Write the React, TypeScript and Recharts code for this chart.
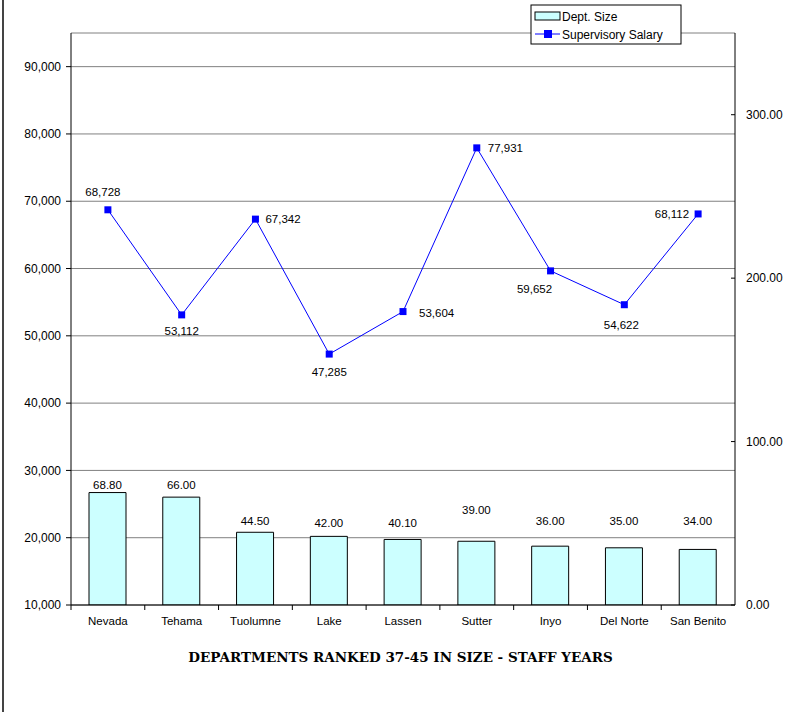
import React from 'react';
import { ComposedChart, Bar, Line, XAxis, YAxis, CartesianGrid, LabelList } from 'recharts';

const departments = ['Nevada', 'Tehama', 'Tuolumne', 'Lake', 'Lassen', 'Sutter', 'Inyo', 'Del Norte', 'San Benito'];
const deptSize = [68.8, 66.0, 44.5, 42.0, 40.1, 39.0, 36.0, 35.0, 34.0];
const supervisorySalary = [68728, 53112, 67342, 47285, 53604, 77931, 59652, 54622, 68112];
const leftTicks = [10000, 20000, 30000, 40000, 50000, 60000, 70000, 80000, 90000];
const rightTicks = [0, 100, 200, 300];
const leftDomain = [10000, 95000];
const rightDomain = [0, 350];
const title = 'DEPARTMENTS RANKED 37-45 IN SIZE - STAFF YEARS';

const data = departments.map((name, i) => ({ name, size: deptSize[i], salary: supervisorySalary[i] }));

// label placement (style only)
const salaryLabelPlacement = [
  { dx: -5, dy: -14, anchor: 'middle' },
  { dx: 0, dy: 20, anchor: 'middle' },
  { dx: 10, dy: 4, anchor: 'start' },
  { dx: 0, dy: 22, anchor: 'middle' },
  { dx: 16, dy: 5, anchor: 'start' },
  { dx: 11, dy: 4, anchor: 'start' },
  { dx: -16, dy: 22, anchor: 'middle' },
  { dx: -3, dy: 24, anchor: 'middle' },
  { dx: -9, dy: 4, anchor: 'end' },
];
// vertical offset of each bar label above its bar top (style only)
const barLabelLift = [4, 8, 7, 9, 12, 27, 21, 23, 24];

const CHART_W = 801;
const CHART_H = 712;
const MARGIN = { top: 33, right: 6, left: 6, bottom: 77 };
const LEFT_AXIS_W = 65;
const RIGHT_AXIS_W = 60;
const PLOT_W = CHART_W - MARGIN.left - MARGIN.right - LEFT_AXIS_W - RIGHT_AXIS_W;
const BAND = PLOT_W / departments.length;
const FONT = 'Liberation Sans, Arial, sans-serif';
const LABEL_SIZE = 11.5;
const AXIS_SIZE = 12;

const XTick = (props: any) => {
  const { x, y, payload } = props;
  const bx = x - BAND / 2;
  return (
    <g>
      <line x1={bx} y1={y} x2={bx} y2={y + 5} stroke="#000" />
      <text x={x} y={y + 20} textAnchor="middle" fontSize={LABEL_SIZE} fill="#000" fontFamily={FONT}>
        {payload.value}
      </text>
    </g>
  );
};

const RightTick = (props: any) => {
  const { x, y, payload } = props;
  return (
    <g>
      <line x1={x - 15} y1={y} x2={x - 11} y2={y} stroke="#000" />
      <text x={x} y={y} dy="0.355em" textAnchor="start" fontSize={AXIS_SIZE} fill="#000" fontFamily={FONT}>
        {Number(payload.value).toFixed(2)}
      </text>
    </g>
  );
};

const SquareDot = (props: any) => {
  const { cx, cy, index } = props;
  if (cx == null || cy == null) return null;
  return <rect key={`d${index}`} x={cx - 3.5} y={cy - 3.5} width={7} height={7} fill="#0000FF" />;
};

const SalaryLabel = (props: any) => {
  const { x, y, value, index } = props;
  const p = salaryLabelPlacement[index] || { dx: 0, dy: -10, anchor: 'middle' };
  return (
    <text x={x + p.dx} y={y + p.dy} textAnchor={p.anchor} fontSize={LABEL_SIZE} fill="#000" fontFamily={FONT}>
      {Number(value).toLocaleString('en-US')}
    </text>
  );
};

const BarLabel = (props: any) => {
  const { x, y, width, value, index } = props;
  const lift = barLabelLift[index] ?? 4;
  return (
    <text x={x + width / 2} y={y - lift} textAnchor="middle" fontSize={LABEL_SIZE} fill="#000" fontFamily={FONT}>
      {Number(value).toFixed(2)}
    </text>
  );
};

const LegendBox = () => (
  <svg width={152} height={41} style={{ position: 'absolute', left: 530, top: 4 }}>
    <rect x={1} y={1} width={150} height={39} fill="#fff" stroke="#000" />
    <rect x={5} y={8} width={25} height={8} fill="#CCFFFF" stroke="#000" />
    <text x={32} y={17} fontSize={12} fill="#000" fontFamily={FONT}>Dept. Size</text>
    <line x1={5} y1={30} x2={30} y2={30} stroke="#0000FF" />
    <rect x={14} y={26} width={8} height={8} fill="#0000FF" />
    <text x={32} y={35} fontSize={12} fill="#000" fontFamily={FONT}>Supervisory Salary</text>
  </svg>
);

export default function App() {
  return (
    <div style={{ position: 'absolute', left: 0, top: 0, width: CHART_W, height: CHART_H, background: '#fff', fontFamily: FONT }}>
      <div style={{ position: 'absolute', left: 2, top: 0, width: 2, height: CHART_H, background: '#444' }} />
      <ComposedChart width={CHART_W} height={CHART_H} data={data} margin={MARGIN}>
        <CartesianGrid yAxisId="left" vertical={false} stroke="#808080" />
        <XAxis
          dataKey="name"
          interval={0}
          height={30}
          tickSize={0}
          tickMargin={0}
          tickLine={false}
          axisLine={{ stroke: '#000' }}
          tick={<XTick />}
        />
        <YAxis
          yAxisId="left"
          orientation="left"
          width={LEFT_AXIS_W}
          domain={leftDomain}
          ticks={leftTicks}
          allowDataOverflow
          tickSize={5}
          tickMargin={5}
          axisLine={{ stroke: '#000' }}
          tickLine={{ stroke: '#000' }}
          tick={{ fontSize: AXIS_SIZE, fill: '#000', fontFamily: FONT }}
          tickFormatter={(v: number) => v.toLocaleString('en-US')}
        />
        <YAxis
          yAxisId="right"
          orientation="right"
          width={RIGHT_AXIS_W}
          domain={rightDomain}
          ticks={rightTicks}
          allowDataOverflow
          tickSize={0}
          tickMargin={11}
          tickLine={false}
          axisLine={{ stroke: '#000' }}
          tick={<RightTick />}
        />
        <Bar yAxisId="right" dataKey="size" fill="#CCFFFF" stroke="#000" strokeWidth={1} barSize={37} isAnimationActive={false}>
          <LabelList dataKey="size" content={<BarLabel />} />
        </Bar>
        <Line
          yAxisId="left"
          dataKey="salary"
          stroke="#0000FF"
          strokeWidth={1}
          dot={<SquareDot />}
          activeDot={false}
          isAnimationActive={false}
        >
          <LabelList dataKey="salary" content={<SalaryLabel />} />
        </Line>
      </ComposedChart>
      <LegendBox />
      <div
        style={{
          position: 'absolute',
          left: 0,
          width: CHART_W,
          top: 649,
          textAlign: 'center',
          fontFamily: 'DejaVu Serif, serif',
          fontWeight: 'bold',
          fontSize: 13.5,
          color: '#000',
          whiteSpace: 'nowrap',
        }}
      >
        {title}
      </div>
    </div>
  );
}
